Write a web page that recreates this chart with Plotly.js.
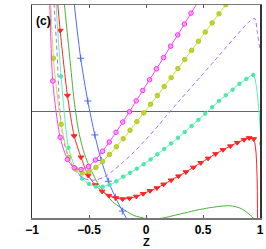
<!DOCTYPE html>
<html><head><meta charset="utf-8">
<script src="https://cdn.plot.ly/plotly-3.0.1.min.js"></script>
<style>html,body{margin:0;padding:0;background:#fff}#plot{width:266px;height:249px}</style>
</head><body><div id="plot"></div>
<script>
// x-axis ticks
var xTickVals = [-1, -0.5, 0, 0.5, 1];
var xTickText = ['\u22121', '\u22120.5', '0', '0.5', '1'];
var panelLabel = '(c)';
var xTitle = 'Z';

// magenta, open circles
var magX = [-0.878, -0.818, -0.753, -0.689, -0.630, -0.570, -0.504, -0.443, -0.381, -0.322, -0.263, -0.204, -0.145, -0.086, -0.028, 0.031, 0.092, 0.154, 0.216, 0.278, 0.337, 0.395, 0.455];
var magY = [2.9, 0.286, -0.242, -0.450, -0.528, -0.545, -0.516, -0.455, -0.373, -0.287, -0.195, -0.099, -0.002, 0.100, 0.198, 0.298, 0.401, 0.506, 0.613, 0.719, 0.821, 0.923, 1.025];

// yellow-green, filled circles
var ygX = [-0.88, -0.812, -0.744, -0.678, -0.617, -0.559, -0.50, -0.44, -0.38, -0.32, -0.26, -0.20, -0.14, -0.08, -0.02, 0.04, 0.10, 0.16, 0.22, 0.28, 0.34, 0.40, 0.46, 0.52, 0.58, 0.64, 0.70];
var ygY = [2.6, 0.50, -0.12, -0.43, -0.54, -0.577, -0.563, -0.525, -0.469, -0.403, -0.331, -0.255, -0.176, -0.095, -0.013, 0.068, 0.150, 0.234, 0.318, 0.403, 0.488, 0.574, 0.660, 0.746, 0.832, 0.917, 1.003];

// purple dashed, no markers
var purX = [-0.84, -0.806, -0.78, -0.759, -0.73, -0.70, -0.66, -0.61, -0.55, -0.49, -0.43, -0.36, -0.30, -0.20, -0.10, 0.0, 0.11, 0.183, 0.30, 0.478, 0.60, 0.771, 0.90, 0.953, 0.977, 1.0];
var purY = [1.8, 1.0, 0.55, 0.06, -0.22, -0.37, -0.49, -0.57, -0.625, -0.645, -0.64, -0.61, -0.565, -0.475, -0.375, -0.262, -0.13, -0.035, 0.11, 0.327, 0.475, 0.687, 0.838, 0.875, 0.74, 0.58];

// aquamarine, small dots
var aqX = [-0.83, -0.79, -0.745, -0.68, -0.62, -0.56, -0.50, -0.44, -0.38, -0.32, -0.26, -0.20, -0.14, -0.08, -0.02, 0.04, 0.10, 0.16, 0.22, 0.28, 0.34, 0.40, 0.46, 0.52, 0.58, 0.64, 0.70, 0.76, 0.82, 0.88, 0.941, 1.01];
var aqY = [2.5, 1.05, 0.33, -0.34, -0.53, -0.63, -0.68, -0.705, -0.706, -0.688, -0.655, -0.612, -0.576, -0.537, -0.495, -0.450, -0.402, -0.352, -0.300, -0.247, -0.192, -0.135, -0.078, -0.020, 0.040, 0.098, 0.152, 0.205, 0.26, 0.305, 0.343, -0.30];

// red, downward triangles
var redX = [-0.82, -0.753, -0.689, -0.630, -0.570, -0.507, -0.445, -0.385, -0.325, -0.265, -0.205, -0.145, -0.085, -0.025, 0.035, 0.095, 0.155, 0.22, 0.285, 0.35, 0.415, 0.48, 0.545, 0.61, 0.675, 0.74, 0.80, 0.86, 0.905, 0.945, 0.978];
var redY = [1.6, 0.76, 0.15, -0.23, -0.43, -0.60, -0.69, -0.75, -0.79, -0.812, -0.822, -0.815, -0.798, -0.772, -0.745, -0.718, -0.684, -0.645, -0.607, -0.568, -0.525, -0.482, -0.44, -0.398, -0.36, -0.325, -0.293, -0.265, -0.248, -0.258, -1.1];

// green, line only
var grnX = [-0.74, -0.715, -0.67, -0.63, -0.59, -0.54, -0.49, -0.42, -0.35, -0.28, -0.21, -0.11, 0.0, 0.07, 0.15, 0.25, 0.35, 0.45, 0.55, 0.65, 0.74, 0.82, 0.87, 0.905, 0.94, 0.97];
var grnY = [1.3, 1.0, 0.52, 0.10, -0.19, -0.40, -0.53, -0.68, -0.78, -0.86, -0.91, -0.975, -1.005, -1.01, -1.0, -0.975, -0.95, -0.925, -0.905, -0.89, -0.885, -0.905, -0.935, -0.965, -1.0, -1.1];

// blue, plus markers
var bluX = [-0.697, -0.635, -0.573, -0.511, -0.449, -0.392, -0.330, -0.269, -0.207, -0.145];
var bluY = [1.9, 1.07, 0.50, 0.099, -0.22, -0.46, -0.655, -0.805, -0.935, -1.05];

function tr(x, y, color, width, dash, sym, msize, mcolor, mline) {
  var t = {x: x, y: y, type: 'scatter', mode: sym ? 'lines+markers' : 'lines',
    line: {color: color, width: width, dash: dash || 'solid', shape: 'spline', smoothing: 0.7},
    cliponaxis: true, hoverinfo: 'skip'};
  if (sym) t.marker = {symbol: sym, size: msize, color: mcolor, line: {color: mline, width: 1}};
  return t;
}

var data = [
  tr(grnX, grnY, '#46b236', 1),
  tr(bluX, bluY, '#4a6cff', 1, null, 'cross-thin-open', 5, '#4a6cff', '#4a6cff'),
  tr(redX, redY, '#ff2424', 1, null, 'triangle-down', 5, '#ff2424', '#ff2424'),
  tr(aqX, aqY, '#5af2b6', 1, null, 'circle', 3.5, '#48eaaa', '#48eaaa'),
  tr(purX, purY, '#a468ff', 1, '4px,3px'),
  tr(ygX, ygY, '#c8df38', 1, null, 'circle', 4.5, '#bed52c', '#b4cc24'),
  tr(magX, magY, '#ff3cff', 1, null, 'circle', 4.5, 'rgba(255,150,255,0.7)', '#ff2cff')
];

var tickFont = {family: 'Liberation Sans, Arial, sans-serif', size: 12, color: '#000', weight: 'bold'};
var layout = {
  width: 266, height: 249,
  margin: {l: 32, r: 6, t: 5, b: 31},
  paper_bgcolor: '#fff', plot_bgcolor: '#fff',
  showlegend: false,
  xaxis: {range: [-1, 1], tickvals: xTickVals, ticktext: xTickText, ticks: 'inside', ticklen: 3,
    tickcolor: '#555', tickwidth: 1, showline: true, linecolor: '#777', linewidth: 1.5, mirror: 'ticks',
    showgrid: false, zeroline: false, tickfont: tickFont, ticklabelstandoff: 0,
    title: {text: ''}},
  yaxis: {range: [-1, 1], showticklabels: false, ticks: '', showline: true, linecolor: '#333', linewidth: 1.5,
    mirror: true, showgrid: false, zeroline: true, zerolinecolor: '#666', zerolinewidth: 1.5},
  annotations: [{text: panelLabel, xref: 'paper', yref: 'paper', x: 0.008, y: 0.968, xanchor: 'left', yanchor: 'top',
    showarrow: false, font: {family: 'Liberation Sans, Arial, sans-serif', size: 12, color: '#000', weight: 'bold'}},
    {text: xTitle, xref: 'paper', yref: 'paper', x: 0.5, y: -0.113, xanchor: 'center', yanchor: 'middle', showarrow: false,
    borderpad: 0, font: {family: 'Liberation Sans, Arial, sans-serif', size: 11, color: '#000', weight: 'bold'}}]
};
Plotly.newPlot('plot', data, layout, {displayModeBar: false, staticPlot: true});
</script></body></html>
